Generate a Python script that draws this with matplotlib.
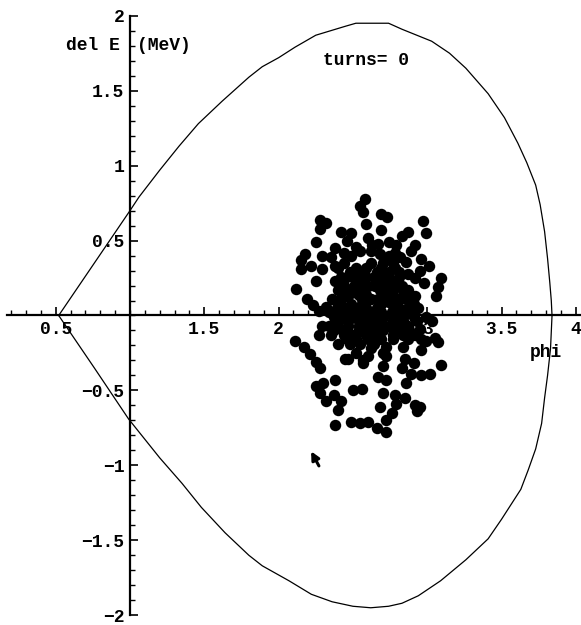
"""
Longitudinal phase space: RF bucket separatrix with the injected bunch at turn 0.
"""

import numpy as np
import matplotlib.pyplot as plt

# separatrix, upper branch (phi, del E in MeV)
sep_upper_phi = [0.52, 0.76, 1.00, 1.06, 1.20, 1.33, 1.46, 1.62, 1.80, 1.89, 2.00,
                 2.11, 2.25, 2.45, 2.52, 2.62, 2.74, 2.83, 3.03, 3.15, 3.26, 3.41,
                 3.52, 3.61, 3.67, 3.73, 3.76, 3.79, 3.81, 3.825, 3.835, 3.84]
sep_upper_dE = [0.00, 0.35, 0.70, 0.79, 0.97, 1.13, 1.28, 1.43, 1.59, 1.66, 1.72,
                1.79, 1.87, 1.93, 1.95, 1.95, 1.95, 1.91, 1.83, 1.75, 1.65, 1.48,
                1.32, 1.15, 1.02, 0.87, 0.74, 0.56, 0.38, 0.22, 0.10, 0.00]

# separatrix, lower branch
sep_lower_phi = [0.52, 0.76, 0.99, 1.20, 1.35, 1.48, 1.64, 1.80, 1.89, 2.07, 2.22,
                 2.36, 2.50, 2.62, 2.74, 2.83, 2.94, 3.09, 3.26, 3.41, 3.50, 3.63,
                 3.68, 3.73, 3.77, 3.79, 3.81, 3.83, 3.84]
sep_lower_dE = [0.00, -0.35, -0.69, -0.95, -1.12, -1.28, -1.45, -1.60, -1.67, -1.77,
                -1.86, -1.91, -1.94, -1.95, -1.94, -1.92, -1.87, -1.77, -1.63, -1.49,
                -1.36, -1.16, -1.03, -0.89, -0.72, -0.55, -0.40, -0.22, 0.00]

# macro-particles of the bunch (phi, del E)
bunch = np.array([
    (2.58, 0.78), (2.55, 0.73), (2.57, 0.69), (2.69, 0.68), (2.73, 0.66), (2.59, 0.61),
    (2.28, 0.64), (2.32, 0.62), (2.28, 0.58), (2.97, 0.63), (2.42, 0.56), (2.49, 0.55),
    (2.69, 0.57), (2.87, 0.56), (2.83, 0.53), (2.99, 0.55), (2.25, 0.49), (2.46, 0.50),
    (2.52, 0.46), (2.67, 0.48), (2.74, 0.49), (2.79, 0.47), (2.92, 0.47), (2.89, 0.43),
    (2.18, 0.41), (2.15, 0.37), (2.29, 0.40), (2.35, 0.39), (2.49, 0.40), (2.55, 0.43),
    (2.62, 0.43), (2.68, 0.41), (2.82, 0.39), (2.86, 0.36), (2.96, 0.38), (3.01, 0.33),
    (2.15, 0.31), (2.22, 0.33), (2.29, 0.31), (2.38, 0.33), (2.87, 0.28), (2.92, 0.25),
    (3.09, 0.25), (3.07, 0.19), (2.25, 0.23), (2.45, 0.25), (2.12, 0.18), (2.54, 0.23),
    (2.60, 0.20), (2.79, 0.19), (2.87, 0.17), (2.92, 0.13), (3.06, 0.13), (2.19, 0.11),
    (2.23, 0.07), (2.36, 0.11), (2.32, 0.06), (2.45, 0.13), (2.49, 0.15), (2.67, 0.11),
    (2.74, 0.09), (2.27, 0.03),
    (2.38, 0.45), (2.44, 0.42), (2.60, 0.52), (2.63, 0.47), (2.78, 0.42), (2.74, 0.40),
    (2.95, 0.30), (2.98, 0.22),
    (2.44, 0.35), (2.62, 0.35), (2.70, 0.35), (2.77, 0.35),
    (2.40, 0.32), (2.52, 0.32), (2.59, 0.32), (2.69, 0.32), (2.78, 0.32),
    (2.48, 0.29), (2.55, 0.29), (2.66, 0.29), (2.74, 0.29), (2.81, 0.29),
    (2.42, 0.26), (2.50, 0.26), (2.59, 0.26), (2.64, 0.26), (2.72, 0.26), (2.81, 0.26),
    (2.38, 0.23), (2.70, 0.23), (2.76, 0.23),
    (2.44, 0.20), (2.51, 0.20), (2.57, 0.20), (2.65, 0.20), (2.74, 0.20), (2.83, 0.20),
    (2.40, 0.17), (2.47, 0.17), (2.68, 0.17), (2.84, 0.17),
    (2.54, 0.14), (2.59, 0.14), (2.72, 0.14), (2.77, 0.14),
    (2.42, 0.11), (2.56, 0.11), (2.62, 0.11), (2.81, 0.11), (2.86, 0.11),
    (2.49, 0.08), (2.56, 0.08), (2.69, 0.08), (2.76, 0.08), (2.91, 0.08),
    (2.39, 0.05), (2.45, 0.05), (2.52, 0.05), (2.59, 0.05), (2.66, 0.05), (2.81, 0.05),
    (2.87, 0.05), (2.94, 0.05),
    (2.34, 0.02), (2.42, 0.02), (2.48, 0.02), (2.56, 0.02), (2.62, 0.02), (2.69, 0.02),
    (2.76, 0.02), (2.83, 0.02), (2.89, 0.02),
    (2.37, -0.01), (2.44, -0.01), (2.50, -0.01), (2.57, -0.01), (2.64, -0.01),
    (2.70, -0.01), (2.77, -0.01), (2.84, -0.01), (2.91, -0.01),
    (2.39, -0.04), (2.47, -0.04), (2.54, -0.04), (2.62, -0.04), (2.69, -0.04),
    (2.77, -0.04), (2.84, -0.04), (2.93, -0.04),
    (2.34, -0.07), (2.40, -0.07), (2.47, -0.07), (2.54, -0.07), (2.60, -0.07),
    (2.67, -0.07), (2.74, -0.07), (2.81, -0.07), (2.87, -0.07),
    (2.37, -0.10), (2.46, -0.10), (2.54, -0.10), (2.62, -0.10), (2.70, -0.10),
    (2.79, -0.10), (2.88, -0.10),
    (2.35, -0.13), (2.44, -0.13), (2.50, -0.13), (2.59, -0.13), (2.66, -0.13),
    (2.77, -0.13), (2.84, -0.13), (2.92, -0.13),
    (2.46, -0.16), (2.52, -0.16), (2.60, -0.16), (2.69, -0.16), (2.77, -0.16),
    (2.87, -0.16), (2.96, -0.16),
    (2.40, -0.19), (2.48, -0.19), (2.55, -0.19), (2.64, -0.19),
    (2.62, -0.22), (2.70, -0.25), (2.60, -0.27),
    (2.45, -0.29), (2.52, -0.25), (2.57, -0.32),
    (2.99, -0.01), (3.03, -0.04), (3.05, -0.15), (3.07, -0.18), (2.95, -0.09),
    (2.11, -0.17), (2.17, -0.21), (2.21, -0.26), (2.25, -0.31), (2.28, -0.35),
    (2.27, -0.13), (2.29, -0.07), (2.47, -0.29), (2.57, -0.30),
    (2.72, -0.21), (2.72, -0.27), (2.84, -0.21), (2.85, -0.29), (2.83, -0.35),
    (2.96, -0.23), (2.91, -0.32), (2.99, -0.17), (3.09, -0.33), (3.02, -0.39),
    (2.70, -0.34), (2.67, -0.41), (2.72, -0.43), (2.86, -0.45), (2.70, -0.52),
    (2.68, -0.61), (2.78, -0.53), (2.79, -0.59), (2.85, -0.55), (2.92, -0.60),
    (2.93, -0.64), (2.76, -0.65), (2.72, -0.70), (2.60, -0.71), (2.66, -0.75),
    (2.72, -0.78), (2.55, -0.72), (2.49, -0.71), (2.38, -0.73), (2.89, -0.39),
    (2.96, -0.40), (2.95, -0.61),
    (2.25, -0.47), (2.30, -0.45), (2.38, -0.43), (2.28, -0.52), (2.32, -0.57),
    (2.37, -0.53), (2.42, -0.57), (2.40, -0.63), (2.50, -0.50), (2.56, -0.49),
])
particle_phi, particle_dE = bunch[:, 0], bunch[:, 1]

x_ticks = [0.5, 1.5, 2, 2.5, 3, 3.5, 4]
x_tick_labels = ["0.5", "1.5", "2", "2.5", "3", "3.5", "4"]
y_ticks = [-2, -1.5, -1, -0.5, 0.5, 1, 1.5, 2]
y_tick_labels = ["\u22122", "\u22121.5", "\u22121", "\u22120.5", "0.5", "1", "1.5", "2"]

turn = 0

FONT = dict(family=["Liberation Mono", "DejaVu Sans Mono"], size=13, weight="bold")

fig = plt.figure(figsize=(5.81, 6.25), dpi=100)
ax = fig.add_axes([0, 0, 1, 1])
ax.set_xlim(0.125, 4.035)
ax.set_ylim(-2.065, 2.105)

# axes crossing at (1, 0)
for side in ("top", "right"):
    ax.spines[side].set_visible(False)
ax.spines["left"].set_position(("data", 1.0))
ax.spines["bottom"].set_position(("data", 0.0))
ax.spines["left"].set_bounds(-2, 2)
ax.spines["bottom"].set_bounds(0.175, 4.035)
for side in ("left", "bottom"):
    ax.spines[side].set_linewidth(1.6)

ax.set_xticks(x_ticks)
ax.set_xticklabels(x_tick_labels, fontdict=FONT)
ax.set_yticks(y_ticks)
ax.set_yticklabels(y_tick_labels, fontdict=FONT)
ax.set_xticks(np.arange(0.2, 4.01, 0.1), minor=True)
ax.set_yticks(np.arange(-1.9, 2.0, 0.1), minor=True)
ax.tick_params(which="major", direction="in", length=6, width=1.2, pad=4)
ax.tick_params(which="minor", direction="in", length=3.5, width=1.0)

ax.plot(sep_upper_phi, sep_upper_dE, color="black", lw=0.9)
ax.plot(sep_lower_phi, sep_lower_dE, color="black", lw=0.9)
ax.scatter(particle_phi, particle_dE, s=68, c="black", linewidths=0, zorder=3)

ax.text(0.93, 1.80, "del E", ha="right", va="center", fontdict=FONT)
ax.text(1.045, 1.80, "(MeV)", ha="left", va="center", fontdict=FONT)
ax.text(3.80, -0.25, "phi", ha="center", va="center", fontdict=FONT)
ax.text(2.59, 1.70, f"turns= {turn}", ha="center", va="center", fontdict=FONT)

# pointer left on the canvas
ax.annotate("", xy=(2.21, -0.89), xytext=(2.28, -1.02),
            arrowprops=dict(arrowstyle="-|>", color="black", lw=2.2, mutation_scale=12))

fig.savefig("out.png", dpi=100, facecolor="white")
